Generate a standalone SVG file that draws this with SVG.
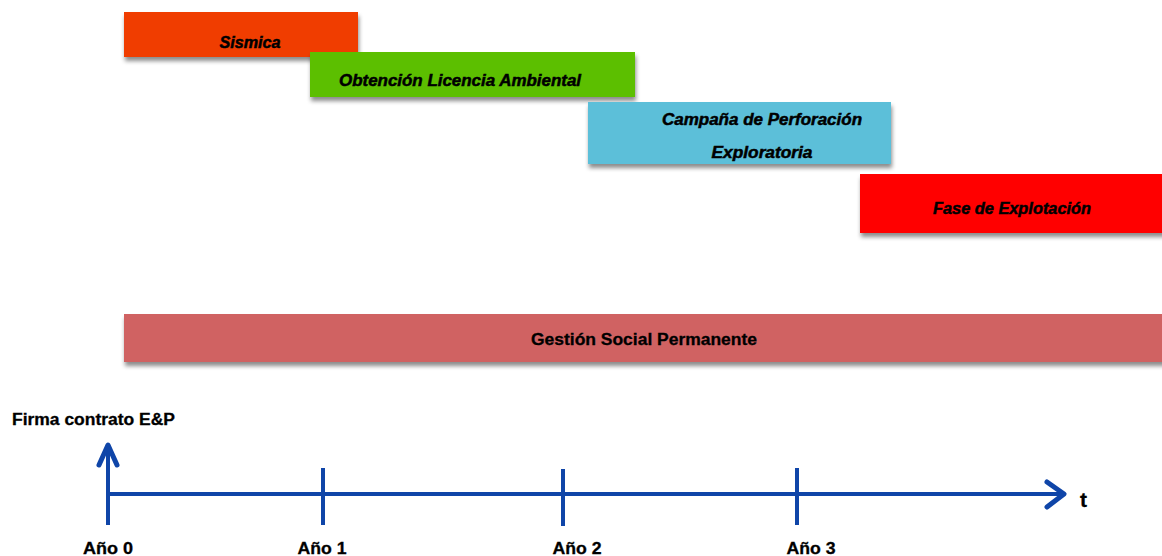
<svg xmlns="http://www.w3.org/2000/svg" width="1162" height="556" viewBox="0 0 1162 556">
  <defs>
    <filter id="shadow" x="-5%" y="-30%" width="110%" height="180%">
      <feDropShadow dx="1" dy="4" stdDeviation="2" flood-color="#000" flood-opacity="0.45"/>
    </filter>
  </defs>
  <style>
    .bar { filter: url(#shadow); }
    .phase { font-family: "Liberation Sans", Arial, sans-serif; font-weight: bold; font-style: italic; font-size: 16px; fill: #000; stroke: #000; stroke-width: 0.5; text-anchor: middle; }
    .plain { font-family: "Liberation Sans", Arial, sans-serif; font-weight: bold; font-size: 16px; fill: #000; stroke: #000; stroke-width: 0.3; }
    .big { font-size: 21px; }
    .axis { stroke: #0f45a8; stroke-width: 4; fill: none; }
    .head { stroke: #0f45a8; stroke-width: 5; fill: none; stroke-linecap: round; stroke-linejoin: round; }
  </style>

  <rect width="1162" height="556" fill="#fff"/>

  <!-- Phase bars -->
  <g id="sismica">
    <rect class="bar" x="124" y="12" width="234" height="45" fill="#f03e00"/>
    <text class="phase" x="250" y="48" textLength="61" lengthAdjust="spacingAndGlyphs">Sismica</text>
  </g>
  <g id="licencia">
    <rect class="bar" x="310" y="52" width="325" height="45" fill="#5cbf00"/>
    <text class="phase" x="460" y="86" textLength="242" lengthAdjust="spacingAndGlyphs">Obtención Licencia Ambiental</text>
  </g>
  <g id="perforacion">
    <rect class="bar" x="588" y="102" width="303" height="62" fill="#5bbfd9"/>
    <text class="phase" x="762" y="125" textLength="200" lengthAdjust="spacingAndGlyphs">Campaña de Perforación</text>
    <text class="phase" x="762" y="158" textLength="101" lengthAdjust="spacingAndGlyphs">Exploratoria</text>
  </g>
  <g id="explotacion">
    <rect class="bar" x="860" y="174" width="310" height="59" fill="#ff0000"/>
    <text class="phase" x="1012" y="214" textLength="158" lengthAdjust="spacingAndGlyphs">Fase de Explotación</text>
  </g>
  <g id="gestion-social">
    <rect class="bar" x="124" y="314" width="1046" height="48" fill="#d06262"/>
    <text class="plain" x="644" y="345" text-anchor="middle" textLength="226" lengthAdjust="spacingAndGlyphs">Gestión Social Permanente</text>
  </g>

  <!-- Time axis -->
  <g id="connectors">
    <line class="axis" x1="107" y1="494" x2="1062" y2="494"/>
    <polyline class="head" points="1047,482 1064,494 1047,507"/>
    <line class="axis" x1="108" y1="525" x2="108" y2="445"/>
    <polyline class="head" points="99,465 108,445 117,465"/>
    <line class="axis" x1="323" y1="468" x2="323" y2="525"/>
    <line class="axis" x1="563" y1="469" x2="563" y2="526"/>
    <line class="axis" x1="797" y1="468" x2="797" y2="525"/>
  </g>

  <!-- Axis labels -->
  <g id="labels">
    <text class="plain" x="12" y="425" textLength="163" lengthAdjust="spacingAndGlyphs">Firma contrato E&amp;P</text>
    <text class="plain big" x="1080" y="507">t</text>
    <text class="plain" x="108" y="554" text-anchor="middle" textLength="50" lengthAdjust="spacingAndGlyphs">Año 0</text>
    <text class="plain" x="322" y="554" text-anchor="middle" textLength="49" lengthAdjust="spacingAndGlyphs">Año 1</text>
    <text class="plain" x="577" y="554" text-anchor="middle" textLength="49" lengthAdjust="spacingAndGlyphs">Año 2</text>
    <text class="plain" x="811" y="554" text-anchor="middle" textLength="49" lengthAdjust="spacingAndGlyphs">Año 3</text>
  </g>
</svg>
